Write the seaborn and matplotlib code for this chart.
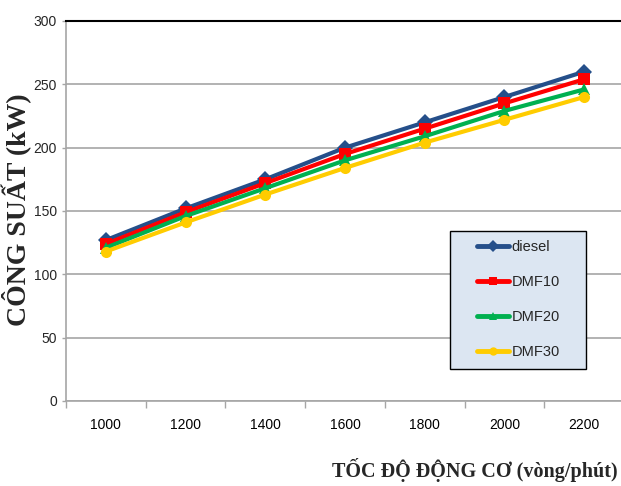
import matplotlib
matplotlib.use("Agg")
import matplotlib.pyplot as plt
import matplotlib.patches as mpatches
import seaborn as sns
import pandas as pd
from matplotlib.ticker import FixedLocator

speeds = ["1000", "1200", "1400", "1600", "1800", "2000", "2200"]
diesel = [127, 152, 175, 200, 220, 240, 260]
dmf10 = [124, 149, 172, 195, 215, 235, 254]
dmf20 = [121, 146, 168, 190, 209, 229, 246]
dmf30 = [118, 141, 163, 184, 204, 222, 240]
series_names = ["diesel", "DMF10", "DMF20", "DMF30"]
y_ticks = [0, 50, 100, 150, 200, 250, 300]

colors = {"diesel": "#254F8A", "DMF10": "#FF0000", "DMF20": "#00B050", "DMF30": "#FFCC00"}
markers = {"diesel": "D", "DMF10": "s", "DMF20": "^", "DMF30": "o"}

rows = []
for name, vals in zip(series_names, [diesel, dmf10, dmf20, dmf30]):
    for s, v in zip(speeds, vals):
        rows.append({"speed": s, "power": v, "fuel": name})
df = pd.DataFrame(rows)

sns.set_style("white")
plt.rcParams["font.family"] = ["Liberation Sans", "DejaVu Sans"]

fig = plt.figure(figsize=(6.21, 4.86), dpi=100)
ax = fig.add_axes([66/621, 1-401/486, 558/621, 380/486])

sns.lineplot(data=df, x="speed", y="power", hue="fuel", style="fuel",
             palette=colors, markers=markers, dashes=False, linewidth=3.0,
             markersize=8, markeredgewidth=0, ax=ax, sort=False)

ax.set_ylim(0, 300)
ax.set_xlim(-0.5, 6.5)
ax.set_yticks(y_ticks)
ax.yaxis.grid(True, color="#A6A6A6", linewidth=1.2)
ax.xaxis.grid(False)
ax.set_axisbelow(True)

ax.set_xticks(range(len(speeds)))
ax.set_xticklabels(speeds)
ax.xaxis.set_minor_locator(FixedLocator([i - 0.5 for i in range(len(speeds) + 1)]))
ax.tick_params(axis="x", which="major", length=0, pad=12, labelsize=10, colors="#000000")
ax.tick_params(axis="x", which="minor", length=5, width=1, color="#A6A6A6", direction="out")
ax.tick_params(axis="y", length=3, width=1, color="#A6A6A6", direction="out", pad=3.5, labelsize=10)
ax.tick_params(axis="both", which="both", bottom=True, left=True)

for side in ["left", "bottom"]:
    ax.spines[side].set_color("#A6A6A6")
    ax.spines[side].set_linewidth(1.2)
ax.spines["top"].set_color("#000000")
ax.spines["top"].set_linewidth(1.5)
ax.spines["right"].set_visible(False)

ax.set_xlabel("")
ax.set_ylabel("")

fig.text(16.5/621, 1-210/486, "CÔNG SUẤT (kW)", rotation=90, ha="center", va="center",
         family=["Liberation Serif", "DejaVu Serif"], fontweight="bold", fontsize=20)
fig.text(618/621, 1-470/486, "TỐC ĐỘ ĐỘNG CƠ (vòng/phút)", ha="right", va="center",
         family=["Liberation Serif", "DejaVu Serif"], fontweight="bold", fontsize=14.5)

# legend box
box = mpatches.Rectangle((450/621, 1-369/486), 136/621, 138/486, transform=fig.transFigure,
                         facecolor="#DCE6F2", edgecolor="#000000", linewidth=1.0, zorder=5)
fig.patches.append(box)

handles, labels = ax.get_legend_handles_labels()
if ax.get_legend() is not None:
    ax.get_legend().remove()
leg = fig.legend(handles, labels, loc="upper left",
                 bbox_to_anchor=(477/621, 1-240/486),
                 bbox_transform=fig.transFigure,
                 frameon=False, fontsize=10.5, handlelength=2.2, handletextpad=0.15,
                 labelspacing=1.45, borderpad=0, borderaxespad=0, markerscale=0.75)
leg.set_zorder(6)
for h in leg.legend_handles:
    h.set_linewidth(3.5)

fig.savefig("out.png", dpi=100)
